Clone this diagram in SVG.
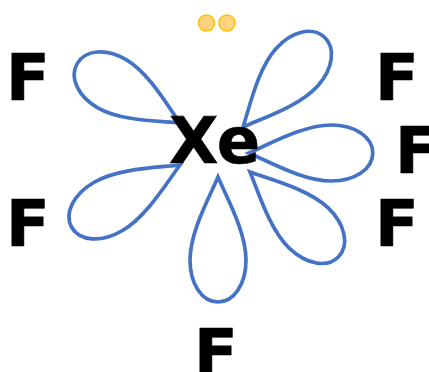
<svg xmlns="http://www.w3.org/2000/svg" width="429" height="372" viewBox="0 0 429 372">
<defs>
<path id="petal" d="M0 0C-9 21 -28 55 -28 83C-28 107 -16 125 0 125C16 125 28 107 28 83C28 55 9 21 0 0Z"/>
</defs>
<style>
.t{font-family:"DejaVu Sans",sans-serif;font-weight:700;font-size:64px;fill:#000;stroke:#000;stroke-width:.6}
.p{fill:none;stroke:#4472C4;stroke-width:3.7;stroke-linejoin:miter}
.e{fill:#FFD37F;stroke:#FFC000;stroke-width:1.5}
</style>
<rect width="429" height="372" fill="#fff"/>
<g id="connectors">
<use class="p" href="#petal" transform="translate(180 123) rotate(120) scale(1 .95)"/>
<use class="p" href="#petal" transform="translate(243 127) rotate(-138) scale(1 .97)"/>
<use class="p" href="#petal" transform="translate(249 153) rotate(-90) scale(1 .99)"/>
<use class="p" href="#petal" transform="translate(250 172) rotate(-46.300) scale(1 .98)"/>
<use class="p" href="#petal" transform="translate(180 165) rotate(60)"/>
<use class="p" href="#petal" transform="translate(218 177)"/>
</g>
<g id="electrons">
<circle class="e" cx="206.500" cy="23" r="8"/>
<circle class="e" cx="227" cy="23" r="8"/>
</g>
<g id="xe"><text class="t" x="169" y="163">Xe</text></g>
<g id="f1"><text class="t" x="6" y="100">F</text></g>
<g id="f2"><text class="t" x="375" y="100">F</text></g>
<g id="f3"><text class="t" x="395" y="173">F</text></g>
<g id="f4"><text class="t" x="375" y="246">F</text></g>
<g id="f5"><text class="t" x="6" y="246">F</text></g>
<g id="f6"><text class="t" x="194" y="375">F</text></g>
</svg>
